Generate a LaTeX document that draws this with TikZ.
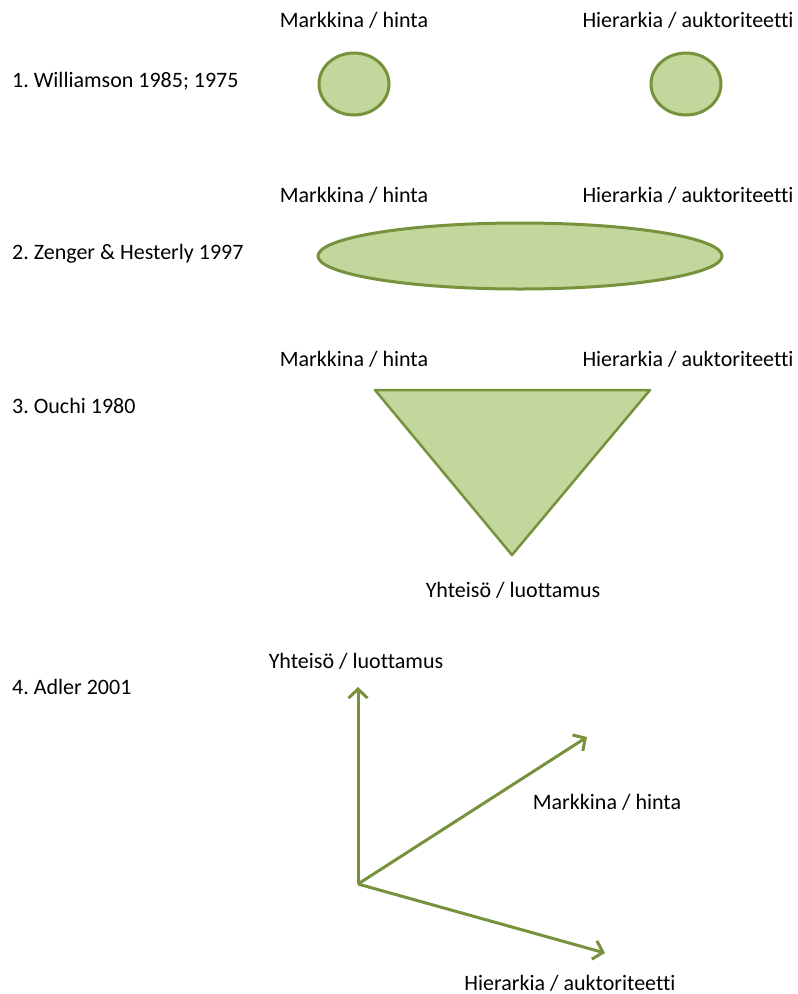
\documentclass[tikz,border=0pt]{standalone}
\usepackage{fontspec}
\setmainfont[Ligatures={NoCommon}]{Carlito}
\usepackage{tikz}
\usetikzlibrary{shapes.geometric,arrows.meta}
\usetikzlibrary{positioning}
\definecolor{leafline}{HTML}{76923C}
\definecolor{leaffill}{HTML}{C3D69B}
\frenchspacing

\begin{document}
\begin{tikzpicture}[x=1pt,y=-1pt,
  lab/.style={font=\fontsize{22}{26}\selectfont, inner sep=0pt},
  blob/.style={draw=leafline, fill=leaffill, line width=3pt, ellipse, inner sep=0pt},
  axis/.style={draw=leafline, line width=3pt, ->},
  >={Straight Barb[length=9pt,width=19pt,line width=3pt]}]
\useasboundingbox (0,0) rectangle (798,994);
% 1
\node[lab] (m1) at (354,20) {Markkina / hinta};
\node[lab] (h1) at (688,20) {Hierarkia / auktoriteetti};
\node[lab, anchor=west] (r1) at (12,81) {1. Williamson 1985; 1975};
\node[blob, minimum width=70, minimum height=62] (e1) at (354,84) {};
\node[blob, minimum width=70, minimum height=62] (e2) at (686,84) {};
% 2
\node[lab] (m2) at (354,195) {Markkina / hinta};
\node[lab] (h2) at (688,195) {Hierarkia / auktoriteetti};
\node[lab, anchor=west] (r2) at (12,254) {2. Zenger \& Hesterly 1997};
\node[blob, minimum width=404, minimum height=66] (e3) at (520,256) {};
% 3
\node[lab] (m3) at (354,359) {Markkina / hinta};
\node[lab] (h3) at (688,359) {Hierarkia / auktoriteetti};
\node[lab, anchor=west] (r3) at (12,406) {3. Ouchi 1980};
\filldraw[draw=leafline, fill=leaffill, line width=2.5pt, line join=round] (375,390) -- (650,390) -- (512,555) -- cycle;
\node[lab] (y3) at (513,590) {Yhteisö / luottamus};
% 4
\node[lab, anchor=west] (r4) at (12,687) {4. Adler 2001};
\node[lab] (y4) at (356,661) {Yhteisö / luottamus};
\node[lab] (m4) at (607,802) {Markkina / hinta};
\node[lab] (h4) at (570,983) {Hierarkia / auktoriteetti};
\coordinate (o) at (358,884);
\coordinate (up) at (358,687);
\coordinate (mk) at (587,737);
\coordinate (hr) at (605,953);
\draw[axis] (o) -- (up);
\draw[axis] (o) -- (mk);
\draw[axis] (o) -- (hr);
\end{tikzpicture}
\end{document}
